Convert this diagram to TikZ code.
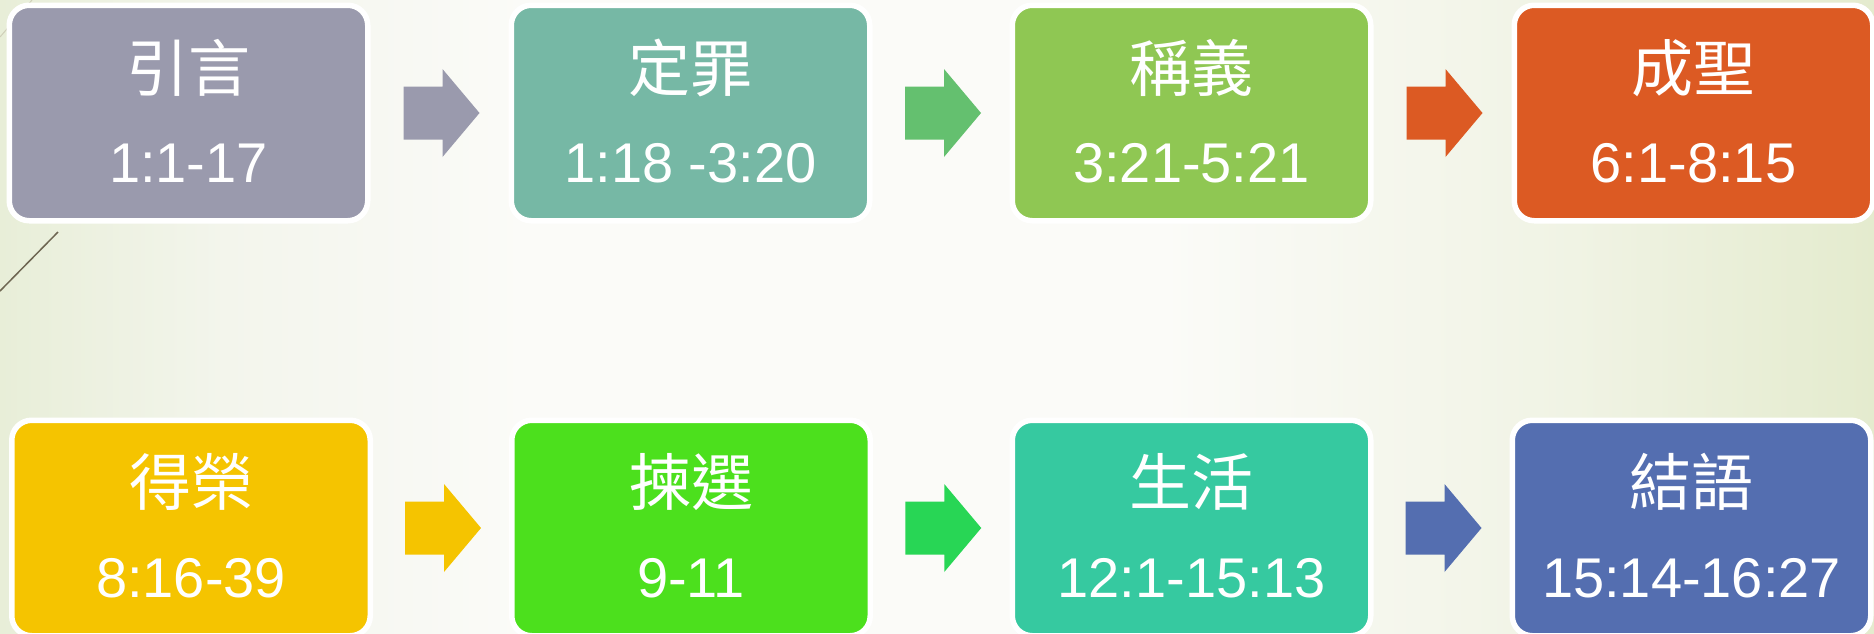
\documentclass[tikz,border=0pt]{standalone}
\usepackage{fontspec}
\setmainfont{Liberation Sans}
\newfontfamily\cjk{Noto Sans CJK TC}
\usetikzlibrary{calc}
\definecolor{bgA}{HTML}{E8EED8}
\definecolor{bgB}{HTML}{F3F5EC}
\definecolor{bgM}{HTML}{FBFBF8}
\definecolor{bgC}{HTML}{F0F3E4}
\definecolor{bgR}{HTML}{E4EBCE}
\definecolor{cA}{HTML}{9A9AAD}
\definecolor{cB}{HTML}{76B8A5}
\definecolor{cC}{HTML}{8FC753}
\definecolor{cD}{HTML}{DC5A23}
\definecolor{cE}{HTML}{F5C400}
\definecolor{cF}{HTML}{4CE01D}
\definecolor{cG}{HTML}{36C9A0}
\definecolor{cH}{HTML}{546EB0}
\definecolor{arB}{HTML}{64C06F}
\definecolor{arF}{HTML}{28D655}
\definecolor{deco}{HTML}{6E6652}
\definecolor{decoL}{HTML}{CFCFB8}
\pgfdeclarehorizontalshading{bgshade}{100bp}{color(0bp)=(bgA); color(25bp)=(bgA); color(31bp)=(bgB); color(39bp)=(bgM); color(56bp)=(bgM); color(67bp)=(bgC); color(75bp)=(bgR); color(100bp)=(bgR)}
\tikzset{
  stagebox/.style={draw=white, line width=5.5pt, rounded corners=20pt, inner sep=0pt,
    minimum width=358.5pt, minimum height=215.5pt, fill=#1},
  titletext/.style={text=white, font=\cjk\fontsize{62}{70}\selectfont, inner sep=0pt},
  reftext/.style={text=white, font=\fontsize{56}{64}\selectfont, inner sep=0pt},
  pics/blockarrow/.style={code={
    \fill[#1] (-38,-26.5) -- (1,-26.5) -- (1,-44) -- (38,0) -- (1,44) -- (1,26.5) -- (-38,26.5) -- cycle;
  }}
}
\begin{document}
\begin{tikzpicture}[x=1pt,y=-1pt]
\useasboundingbox (0,0) rectangle (1874,633);
\shade[shading=bgshade] (0,0) rectangle (1874,633);
\draw[decoL, line width=1pt] (0,37) -- (32,0);
\draw[deco, line width=1.5pt] (0,291) -- (58,232);

\node[stagebox=cA] (box1) at (188.5,113) {};
\node[stagebox=cB] (box2) at (690.5,113) {};
\node[stagebox=cC] (box3) at (1191.5,113) {};
\node[stagebox=cD] (box4) at (1693.5,113) {};
\node[stagebox=cE] (box5) at (191,528) {};
\node[stagebox=cF] (box6) at (691,528) {};
\node[stagebox=cG] (box7) at (1191.5,528) {};
\node[stagebox=cH] (box8) at (1691.5,528) {};

\node[titletext] (t1) at ($(box1.center)+(0,-45)$) {引言};
\node[reftext]   (r1) at ($(box1.center)+(0,50)$) {1:1-17};
\node[titletext] (t2) at ($(box2.center)+(0,-45)$) {定罪};
\node[reftext]   (r2) at ($(box2.center)+(0,50)$) {1:18 -3:20};
\node[titletext] (t3) at ($(box3.center)+(0,-45)$) {稱義};
\node[reftext]   (r3) at ($(box3.center)+(0,50)$) {3:21-5:21};
\node[titletext] (t4) at ($(box4.center)+(0,-45)$) {成聖};
\node[reftext]   (r4) at ($(box4.center)+(0,50)$) {6:1-8:15};
\node[titletext] (t5) at ($(box5.center)+(0,-46)$) {得榮};
\node[reftext]   (r5) at ($(box5.center)+(0,50)$) {8:16-39};
\node[titletext] (t6) at ($(box6.center)+(0,-46)$) {揀選};
\node[reftext]   (r6) at ($(box6.center)+(0,50)$) {9-11};
\node[titletext] (t7) at ($(box7.center)+(0,-46)$) {生活};
\node[reftext]   (r7) at ($(box7.center)+(0,50)$) {12:1-15:13};
\node[titletext] (t8) at ($(box8.center)+(0,-46)$) {結語};
\node[reftext]   (r8) at ($(box8.center)+(0,50)$) {15:14-16:27};

\coordinate (a1) at ($(box1.east)!0.5!(box2.west)+(2,0)$);
\coordinate (a2) at ($(box2.east)!0.5!(box3.west)+(2,0)$);
\coordinate (a3) at ($(box3.east)!0.5!(box4.west)+(2,0)$);
\coordinate (a5) at ($(box5.east)!0.5!(box6.west)+(2,0)$);
\coordinate (a6) at ($(box6.east)!0.5!(box7.west)+(2,0)$);
\coordinate (a7) at ($(box7.east)!0.5!(box8.west)+(2,0)$);
\pic at (a1) {blockarrow=cA};
\pic at (a2) {blockarrow=arB};
\pic at (a3) {blockarrow=cD};
\pic at (a5) {blockarrow=cE};
\pic at (a6) {blockarrow=arF};
\pic at (a7) {blockarrow=cH};
\end{tikzpicture}
\end{document}
